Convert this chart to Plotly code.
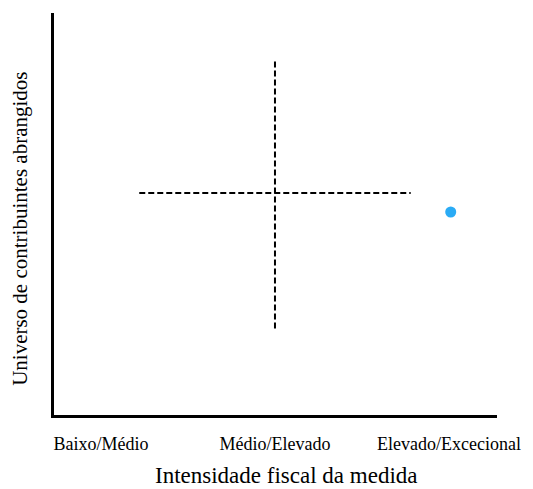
import plotly.graph_objects as go

categories = ["Baixo/Médio", "Médio/Elevado", "Elevado/Excecional"]
cat_pos = [1, 2, 3]
x_title = "Intensidade fiscal da medida"
y_title = "Universo de contribuintes abrangidos"

# dashed reference cross (data coords)
h_line_x = [1.22, 2.78]
h_line_y = [5.52, 5.52]
v_line_x = [2, 2]
v_line_y = [2.15, 8.85]

# point
point_x = [3.01]
point_y = [5.05]

fig = go.Figure()
fig.add_trace(go.Scatter(x=h_line_x, y=h_line_y, mode="lines",
                         line=dict(color="black", width=2, dash="6px,3px"),
                         hoverinfo="skip", showlegend=False))
fig.add_trace(go.Scatter(x=v_line_x, y=v_line_y, mode="lines",
                         line=dict(color="black", width=2, dash="6px,3px"),
                         hoverinfo="skip", showlegend=False))
fig.add_trace(go.Scatter(x=point_x, y=point_y, mode="markers",
                         marker=dict(color="#2aabf5", size=11),
                         showlegend=False))

font_family = "Liberation Serif, Times New Roman, serif"

# page body adds an 8px offset; figure sized to fit the 533x489 window
fig.update_layout(
    width=525, height=481,
    margin=dict(l=46, r=36, t=5, b=74),
    paper_bgcolor="white", plot_bgcolor="white",
    font=dict(family=font_family, color="black"),
    xaxis=dict(range=[0.73, 3.276], tickvals=cat_pos, ticktext=categories,
               automargin=False,
               showgrid=False, zeroline=False, showline=True, linecolor="black",
               linewidth=2.5, ticks="", ticklabelstandoff=11,
               tickfont=dict(size=18, family=font_family)),
    yaxis=dict(range=[0, 10], showticklabels=False, showgrid=False, zeroline=False,
               automargin=False,
               showline=True, linecolor="black", linewidth=2.5, ticks=""),
    annotations=[
        dict(text=x_title, xref="paper", yref="paper", x=0.5, y=0,
             xanchor="center", yanchor="middle", xshift=10, yshift=-60,
             showarrow=False, font=dict(size=23, family=font_family)),
        dict(text=y_title, xref="paper", yref="paper", x=0, y=0.463,
             xanchor="center", yanchor="middle", xshift=-34, textangle=-90,
             showarrow=False, font=dict(size=21, family=font_family)),
    ],
)

fig.write_html("out.html")
